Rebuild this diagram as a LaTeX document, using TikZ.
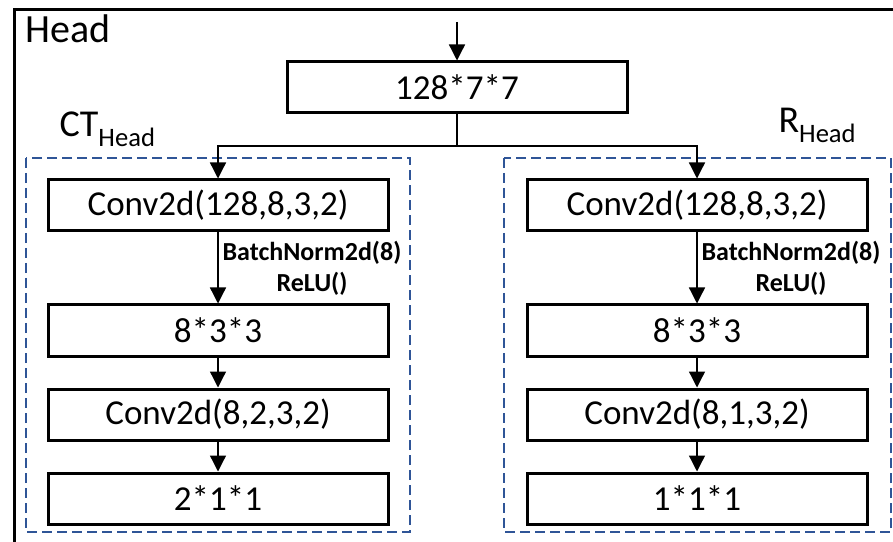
\documentclass[tikz,border=0pt]{standalone}
\usepackage{fontspec}
\setmainfont{Carlito}
\usetikzlibrary{positioning,arrows.meta}
\definecolor{groupblue}{RGB}{47,85,151}

\begin{document}
\begin{tikzpicture}
  [x=1pt, y=1pt, node distance=30pt,
  block/.style={rectangle, draw=black, line width=3pt, minimum width=340pt, minimum height=51pt, font=\fontsize{35}{41}\selectfont},
  line/.style={draw, line width=1.3pt, -{Triangle[width=16pt,length=16pt]}},
  group/.style={draw=groupblue, line width=2.5pt, dash pattern=on 10pt off 5pt},
  note/.style={font=\fontsize{26}{31}\selectfont\bfseries, align=center, inner xsep=4pt}]
  \useasboundingbox (0,0) rectangle (893,541);
  \clip (0,0) rectangle (893,541);
  % frame
  \draw [line width=3pt] (14,-20) -- (14,531) -- (920,531);
  \node [anchor=base west, font=\fontsize{40}{46}\selectfont] (headlbl) at (22,498) {Head};
  % nodes
  \coordinate (in) at (457,519);
  \node [block] (feat) at (457,453.5) {128*7*7};
  \coordinate (split) at (457,395);
  \node [block] (ctconv1) at (218,335.5) {Conv2d(128,8,3,2)};
  \node [block, below=71pt of ctconv1] (ctfeat) {8*3*3};
  \node [block, below=of ctfeat] (ctconv2) {Conv2d(8,2,3,2)};
  \node [block, below=of ctconv2] (ctout) {2*1*1};
  \node [block] (rconv1) at (697,335.5) {Conv2d(128,8,3,2)};
  \node [block, below=71pt of rconv1] (rfeat) {8*3*3};
  \node [block, below=of rfeat] (rconv2) {Conv2d(8,1,3,2)};
  \node [block, below=of rconv2] (rout) {1*1*1};
  % groups
  \draw [group] (26,383) rectangle (410,9);
  \draw [group] (504,383) rectangle (891,9);
  \node [anchor=base west, font=\fontsize{38}{44}\selectfont] (ctlbl) at (56,404) {CT\textsubscript{Head}};
  \node [anchor=base west, font=\fontsize{38}{44}\selectfont] (rlbl) at (775,408) {R\textsubscript{Head}};
  % edges
  \path [line] (in) -- (feat);
  \draw [line width=1.3pt] (feat) -- (split);
  \path [line] (split) -| (ctconv1);
  \path [line] (split) -| (rconv1);
  \path [line] (ctconv1) -- node [note, right] {BatchNorm2d(8)\\ReLU()} (ctfeat);
  \path [line] (ctfeat) -- (ctconv2);
  \path [line] (ctconv2) -- (ctout);
  \path [line] (rconv1) -- node [note, right] {BatchNorm2d(8)\\ReLU()} (rfeat);
  \path [line] (rfeat) -- (rconv2);
  \path [line] (rconv2) -- (rout);
\end{tikzpicture}
\end{document}
